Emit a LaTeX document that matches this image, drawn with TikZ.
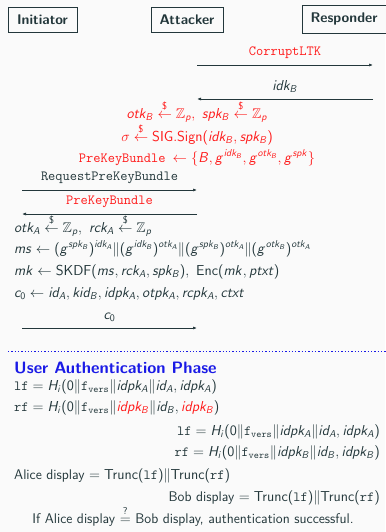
\documentclass[tikz,border=0pt]{standalone}
\usepackage{amsmath,amssymb}
\usetikzlibrary{arrows.meta}
\definecolor{bg}{HTML}{FAFAFA}
\definecolor{ink}{HTML}{23373B}
\definecolor{hl}{HTML}{FF1A1A}
\definecolor{phase}{HTML}{1A1AE6}
% sans-serif math in the style of beamer slides
\DeclareSymbolFont{sfletters}{OT1}{cmss}{m}{sl}
\SetSymbolFont{operators}{normal}{OT1}{cmss}{m}{n}
\newcount\lettercode
\lettercode=`a
\loop
  \mathcode\lettercode=\numexpr "7000+\symsfletters*"100+\lettercode\relax
  \advance\lettercode by 1
  \ifnum\lettercode<`\{ \repeat
\lettercode=`A
\loop
  \mathcode\lettercode=\numexpr "7000+\symsfletters*"100+\lettercode\relax
  \advance\lettercode by 1
  \ifnum\lettercode<`\[ \repeat
\newcommand{\rnd}{\stackrel{\$}{\leftarrow}}
\newcommand{\tf}[1]{\text{\ttfamily #1}}
\newcommand{\fv}{\tf{f}_{\tf{vers}}}
\begin{document}
\begin{tikzpicture}[x=1pt,y=-1pt,
  every node/.style={font=\sffamily\fontsize{14}{16}\selectfont, text=ink, inner sep=0pt},
  party/.style={draw=ink, line width=0.8pt, fill=bg, minimum height=25pt, font=\sffamily\bfseries\fontsize{14}{16}\selectfont},
  msg/.style={draw=ink, line width=0.7pt, -{Latex[length=4pt,width=3pt]}}]
\fill[bg] (0,0) rectangle (385,532);
\useasboundingbox (0,0) rectangle (385,532);
% parties
\node[party, minimum width=69pt] (ini) at (42.5,19.5) {Initiator};
\node[party, minimum width=72pt] (att) at (187,19.5) {Attacker};
\node[party, minimum width=84pt, minimum height=28pt] (res) at (344,19) {Responder};
% attacker corrupts the responder's long-term key
\coordinate (c1a) at (197,65); \coordinate (c1b) at (373,65);
\draw[msg] (c1a) -- (c1b) node[midway, above=6pt, text=hl] (m1) {\ttfamily CorruptLTK};
\coordinate (c2a) at (373,99); \coordinate (c2b) at (197,99);
\draw[msg] (c2a) -- (c2b) node[midway, above=6pt] (m2) {$idk_B$};
% forged prekey bundle
\node[anchor=base, text=hl] (f1) at (197,118) {$otk_B \rnd \mathbb{Z}_p,\ spk_B \rnd \mathbb{Z}_p$};
\node[anchor=base, text=hl] (f2) at (197,141) {$\sigma \rnd \mathrm{SIG.Sign}(idk_B, spk_B)$};
\node[anchor=base, text=hl] (f3) at (197,162) {\ttfamily PreKeyBundle $\leftarrow \{B, g^{idk_B}, g^{otk_B}, g^{spk}\}$};
% initiator requests the bundle
\coordinate (r1a) at (22,190); \coordinate (r1b) at (197,190);
\draw[msg] (r1a) -- (r1b) node[midway, above=6pt] (m3) {\ttfamily RequestPreKeyBundle};
\coordinate (r2a) at (197,214); \coordinate (r2b) at (22,214);
\draw[msg] (r2a) -- (r2b) node[midway, above=6pt, text=hl] (m4) {\ttfamily PreKeyBundle};
% initiator computations
\node[anchor=base west] (i1) at (14,232) {$otk_A \rnd \mathbb{Z}_p,\ rck_A \rnd \mathbb{Z}_p$};
\node[anchor=base west] (i2) at (14,253) {$ms \leftarrow (g^{spk_B})^{idk_A} \| (g^{idk_B})^{otk_A} \| (g^{spk_B})^{otk_A} \| (g^{otk_B})^{otk_A}$};
\node[anchor=base west] (i3) at (14,275) {$mk \leftarrow \mathrm{SKDF}(ms, rck_A, spk_B),\ \mathrm{Enc}(mk, ptxt)$};
\node[anchor=base west] (i4) at (14,297) {$c_0 \leftarrow id_A, kid_B, idpk_A, otpk_A, rcpk_A, ctxt$};
\coordinate (c0a) at (22,328); \coordinate (c0b) at (197,328);
\draw[msg] (c0a) -- (c0b) node[midway, above=6pt] (m5) {$c_0$};
% phase separator
\coordinate (sepa) at (8,351.5); \coordinate (sepb) at (386,351.5);
\draw[phase, dotted, line width=1.3pt] (sepa) -- (sepb);
\node[anchor=base west, text=phase, font=\sffamily\bfseries\fontsize{16.5}{19}\selectfont] (ph) at (14,373) {User Authentication Phase};
\node[anchor=base west] (u1) at (14,390) {$\tf{lf} = H_i(0 \| \fv \| idpk_A \| id_A, idpk_A)$};
\node[anchor=base west] (u2) at (14,411) {$\tf{rf} = H_i(0 \| \fv \| \textcolor{hl}{idpk_B} \| id_B, \textcolor{hl}{idpk_B})$};
\node[anchor=base east] (u3) at (380,435) {$\tf{lf} = H_i(0 \| \fv \| idpk_A \| id_A, idpk_A)$};
\node[anchor=base east] (u4) at (380,456) {$\tf{rf} = H_i(0 \| \fv \| idpk_B \| id_B, idpk_B)$};
\node[anchor=base west] (u5) at (14,479) {Alice display $= \mathrm{Trunc}(\tf{lf}) \| \mathrm{Trunc}(\tf{rf})$};
\node[anchor=base east] (u6) at (380,501) {Bob display $= \mathrm{Trunc}(\tf{lf}) \| \mathrm{Trunc}(\tf{rf})$};
\node[anchor=base] (u7) at (193,523) {If Alice display $\stackrel{?}{=}$ Bob display, authentication successful.};
\end{tikzpicture}
\end{document}
